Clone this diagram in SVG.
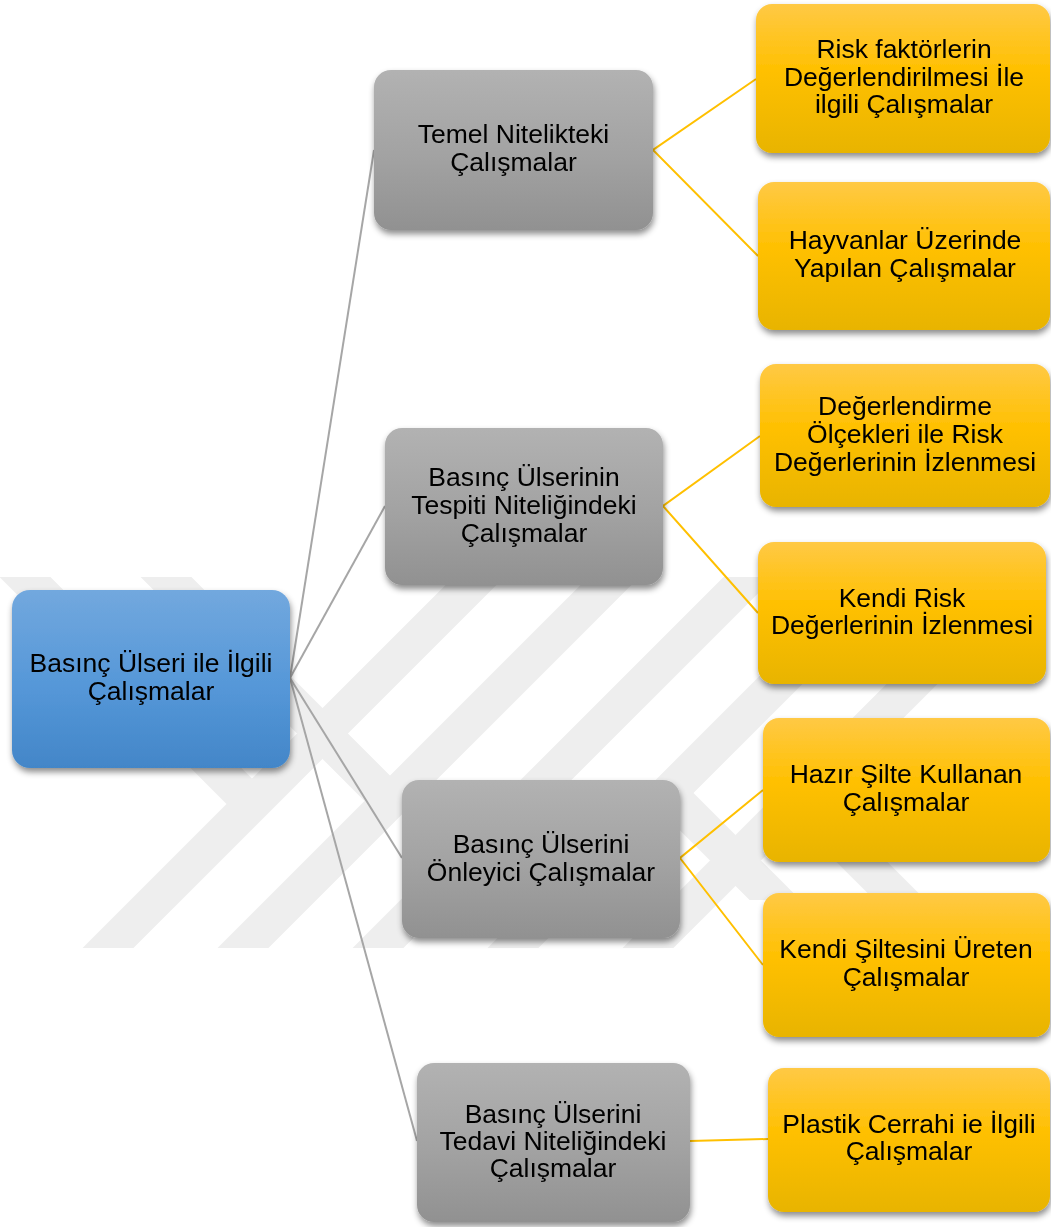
<svg xmlns="http://www.w3.org/2000/svg" width="1051" height="1227" viewBox="0 0 1051 1227">
<defs>
<linearGradient id="gBlue" x1="0" y1="0" x2="0" y2="1"><stop offset="0" stop-color="#72a8de"/><stop offset="0.55" stop-color="#5597d8"/><stop offset="1" stop-color="#4386c8"/></linearGradient>
<linearGradient id="gGray" x1="0" y1="0" x2="0" y2="1"><stop offset="0" stop-color="#b2b2b2"/><stop offset="0.55" stop-color="#a2a2a2"/><stop offset="1" stop-color="#919191"/></linearGradient>
<linearGradient id="gYel" x1="0" y1="0" x2="0" y2="1"><stop offset="0" stop-color="#ffc945"/><stop offset="0.45" stop-color="#ffc000"/><stop offset="1" stop-color="#e8b400"/></linearGradient>
<filter id="sh" x="-10%" y="-10%" width="125%" height="130%"><feDropShadow dx="1" dy="4" stdDeviation="3" flood-color="#000" flood-opacity="0.45"/></filter>
<clipPath id="wmClip"><rect x="0" y="577" width="1051" height="371"/></clipPath>
<clipPath id="wmClip2"><rect x="0" y="577" width="1051" height="323"/></clipPath>
</defs>
<style>
text{font-family:"Liberation Sans",Arial,sans-serif;font-size:26.5px;fill:#000;text-anchor:middle}
.box{filter:url(#sh)}
.blue{fill:url(#gBlue)}
.gray{fill:url(#gGray)}
.yel{fill:url(#gYel)}
.cg{stroke:#a6a6a6;stroke-width:2;fill:none}
.cy{stroke:#ffc000;stroke-width:2;fill:none}
.wm{stroke:#eeeeee;stroke-width:36;fill:none}
</style>
<rect width="1051" height="1227" fill="#ffffff"/>
<g id="watermark">
<g clip-path="url(#wmClip)">
<line class="wm" x1="516" y1="540" x2="56" y2="1000"/>
<line class="wm" x1="651" y1="540" x2="191" y2="1000"/>
<line class="wm" x1="786" y1="540" x2="326" y2="1000"/>
<line class="wm" x1="921" y1="540" x2="461" y2="1000"/>
<line class="wm" x1="1056" y1="540" x2="596" y2="1000"/>
<line class="wm" x1="-12" y1="540" x2="252" y2="804"/>
<line class="wm" x1="129" y1="540" x2="390" y2="801"/>
</g>
<g clip-path="url(#wmClip2)">
<line class="wm" x1="668" y1="793" x2="900" y2="1025"/>
<line class="wm" x1="798" y1="798" x2="1000" y2="1000"/>
</g>
</g>
<g id="connectors">
<line class="cg" x1="290" y1="678" x2="374" y2="150"/>
<line class="cg" x1="290" y1="678" x2="385" y2="506"/>
<line class="cg" x1="290" y1="678" x2="402" y2="858"/>
<line class="cg" x1="290" y1="678" x2="417" y2="1141"/>
<polyline class="cy" points="756,79 653,150 758,256"/>
<polyline class="cy" points="760,436 663,506 758,613"/>
<polyline class="cy" points="763,790 680,858 763,965"/>
<line class="cy" x1="690" y1="1141" x2="768" y2="1139"/>
</g>
<g id="root" class="box"><rect class="blue" x="12" y="590" width="278" height="178" rx="18"/><text x="151" y="672">Basınç Ülseri ile İlgili</text><text x="151" y="700">Çalışmalar</text></g>
<g id="g1" class="box"><rect class="gray" x="374" y="70" width="279" height="160" rx="17"/><text x="513.5" y="143">Temel Nitelikteki</text><text x="513.5" y="171">Çalışmalar</text></g>
<g id="g2" class="box"><rect class="gray" x="385" y="428" width="278" height="157" rx="17"/><text x="524" y="486">Basınç Ülserinin</text><text x="524" y="514">Tespiti Niteliğindeki</text><text x="524" y="542">Çalışmalar</text></g>
<g id="g3" class="box"><rect class="gray" x="402" y="780" width="278" height="158" rx="17"/><text x="541" y="853">Basınç Ülserini</text><text x="541" y="881">Önleyici Çalışmalar</text></g>
<g id="g4" class="box"><rect class="gray" x="417" y="1063" width="273" height="159" rx="17"/><text x="553" y="1123">Basınç Ülserini</text><text x="553" y="1150">Tedavi Niteliğindeki</text><text x="553" y="1177">Çalışmalar</text></g>
<g id="y1" class="box"><rect class="yel" x="756" y="4" width="294" height="149" rx="16"/><text x="904" y="58">Risk faktörlerin</text><text x="904" y="86">Değerlendirilmesi İle</text><text x="904" y="113">ilgili Çalışmalar</text></g>
<g id="y2" class="box"><rect class="yel" x="758" y="182" width="292" height="148" rx="16"/><text x="905" y="249">Hayvanlar Üzerinde</text><text x="905" y="277">Yapılan Çalışmalar</text></g>
<g id="y3" class="box"><rect class="yel" x="760" y="364" width="290" height="143" rx="16"/><text x="905" y="415">Değerlendirme</text><text x="905" y="443">Ölçekleri ile Risk</text><text x="905" y="471">Değerlerinin İzlenmesi</text></g>
<g id="y4" class="box"><rect class="yel" x="758" y="542" width="288" height="142" rx="16"/><text x="902" y="607">Kendi Risk</text><text x="902" y="634">Değerlerinin İzlenmesi</text></g>
<g id="y5" class="box"><rect class="yel" x="763" y="718" width="287" height="144" rx="16"/><text x="906" y="783">Hazır Şilte Kullanan</text><text x="906" y="811">Çalışmalar</text></g>
<g id="y6" class="box"><rect class="yel" x="763" y="893" width="287" height="144" rx="16"/><text x="906" y="958">Kendi Şiltesini Üreten</text><text x="906" y="986">Çalışmalar</text></g>
<g id="y7" class="box"><rect class="yel" x="768" y="1068" width="282" height="144" rx="16"/><text x="909" y="1133">Plastik Cerrahi ie İlgili</text><text x="909" y="1160">Çalışmalar</text></g>
</svg>
